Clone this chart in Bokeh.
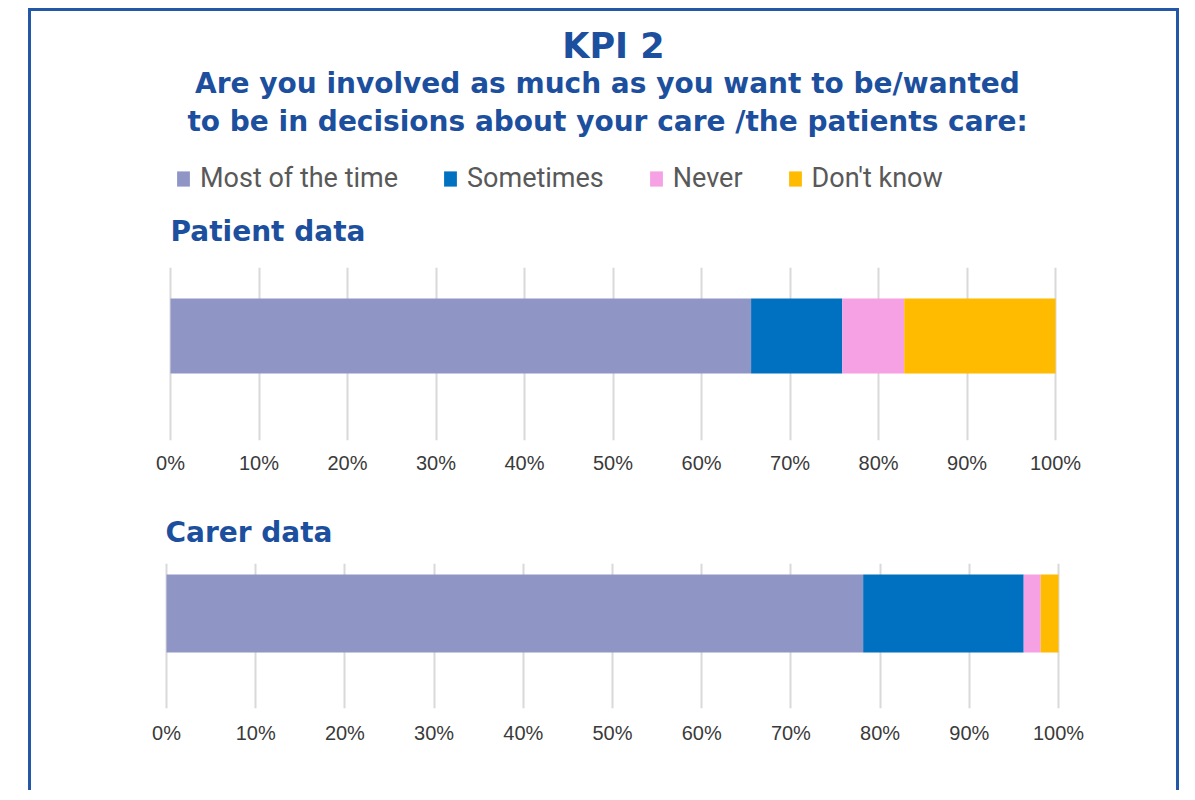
from bokeh.plotting import figure
from bokeh.layouts import column
from bokeh.models import (Range1d, FixedTicker, PrintfTickFormatter, Legend,
                          LegendItem, ColumnDataSource)
from bokeh.core.properties import value
from bokeh.embed import file_html
from bokeh.resources import INLINE

# ---------------- data ----------------
title_text = "KPI 2"
subtitle_lines = ["Are you involved as much as you want to be/wanted",
                  "to be in decisions about your care /the patients care:"]
panel_titles = ["Patient data", "Carer data"]
categories = ["Most of the time", "Sometimes", "Never", "Don't know"]
colors = ["#8f96c6", "#0070c0", "#f5a1e3", "#ffbb00"]
patient_values = [65.6, 10.3, 7.0, 17.1]
carer_values = [78.1, 18.0, 1.9, 2.0]
tick_values = [0, 10, 20, 30, 40, 50, 60, 70, 80, 90, 100]

BLUE = "#1c4f9e"
FRAME = "#2457a6"
W = 1145            # inner width of the framed box
ORIGIN = 31         # page x of the figures' left edge
LB, FW = 126, 910   # common left border and frame width of every figure
RB = W - LB - FW
FX0 = ORIGIN + LB   # page x of frame left
TITLE_FONT = value("DejaVu Sans")


def text_fig(height, top):
    f = figure(width=W, height=height, x_range=Range1d(FX0, FX0 + FW),
               y_range=Range1d(top + height, top), toolbar_location=None,
               output_backend="svg", title=None, x_axis_type=None,
               y_axis_type=None, outline_line_color=None,
               min_border_left=LB, min_border_right=RB,
               min_border_top=0, min_border_bottom=0)
    f.grid.visible = False
    return f


# ---------------- header ----------------
hdr = text_fig(239, 11)
hdr.text(x=[613], y=[45], text=[title_text], text_font=TITLE_FONT,
         text_font_style="bold", text_font_size="35px", text_align="center",
         text_baseline="alphabetic", text_color=BLUE)
hdr.text(x=[607, 607], y=[83, 121], text=subtitle_lines, text_font=TITLE_FONT,
         text_font_style="bold", text_font_size="28px", text_align="center",
         text_baseline="alphabetic", text_color=BLUE)
hdr.text(x=[170], y=[231], text=[panel_titles[0]], text_font=TITLE_FONT,
         text_font_style="bold", text_font_size="28px", text_align="left",
         text_baseline="alphabetic", text_color=BLUE)

# legend entries (renderers hidden; they only provide the swatches)
items = []
for i, (c, lab) in enumerate(zip(colors, categories)):
    r = hdr.hbar(y=[0], right=[patient_values[i]], height=1, fill_color=c,
                 line_color=None, visible=False)
    items.append(LegendItem(label=lab, renderers=[r]))
leg = Legend(items=items, orientation="horizontal", location=(18, 56),
             glyph_width=16, glyph_height=19, label_standoff=9, spacing=44,
             padding=0, margin=0, border_line_color=None,
             background_fill_alpha=0, inactive_fill_alpha=0,
             label_text_font="Roboto",
             label_text_font_size="27px", label_text_color="#595959")
hdr.add_layout(leg)

keys = ["s0", "s1", "s2", "s3"]


def chart(vals, height, x0, x1, top, bottom, y0, y1, standoff):
    p = figure(width=W, height=height, x_range=Range1d(x0, x1),
               y_range=Range1d(y0, y1), toolbar_location=None,
               output_backend="svg", title=None, y_axis_type=None,
               min_border_left=LB, min_border_right=RB,
               min_border_top=top, min_border_bottom=bottom,
               outline_line_color=None)
    data = {"y": [0]}
    for k, v in zip(keys, vals):
        data[k] = [v]
    src = ColumnDataSource(data)
    p.hbar_stack(keys, y="y", height=1, fill_color=colors, line_color=None,
                 source=src)
    ax = p.xaxis[0]
    ax.ticker = FixedTicker(ticks=tick_values)
    ax.formatter = PrintfTickFormatter(format="%d%%")
    ax.axis_line_color = None
    ax.major_tick_line_color = None
    ax.minor_tick_line_color = None
    ax.major_tick_in = 0
    ax.major_tick_out = 0
    ax.major_label_standoff = standoff
    ax.major_label_text_font = "Liberation Sans"
    ax.major_label_text_font_size = "20px"
    ax.major_label_text_color = "#3a3a3a"
    p.xgrid.grid_line_color = "#d9d9d9"
    p.xgrid.grid_line_width = 2
    return p


pat = chart(patient_values, 240, -1.469, 101.35, 17, 50, -1.393, 0.913, 11)

chd = text_fig(65, 490)
chd.text(x=[165], y=[532], text=[panel_titles[1]], text_font=TITLE_FONT,
         text_font_style="bold", text_font_size="28px", text_align="left",
         text_baseline="alphabetic", text_color=BLUE)

car = chart(carer_values, 235, -1.009, 101.01, 8, 82, -1.218, 0.641, 13)

layout = column(hdr, pat, chd, car, margin=(8, 0, 0, 28),
                styles={"border-top": f"3px solid {FRAME}",
                        "border-left": f"3px solid {FRAME}",
                        "border-right": f"3px solid {FRAME}"})

open("out.html", "w").write(file_html(layout, INLINE))
